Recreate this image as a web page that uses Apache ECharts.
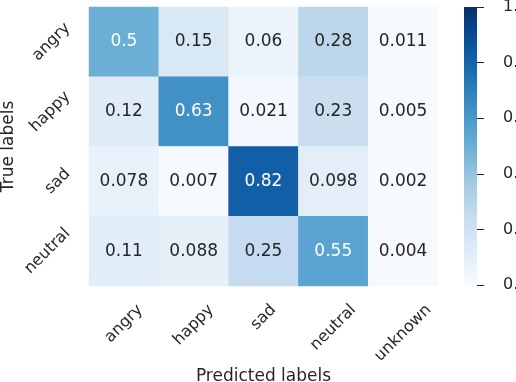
<!DOCTYPE html>
<html>
<head>
<meta charset="utf-8">
<script src="https://cdn.jsdelivr.net/npm/echarts@6/dist/echarts.min.js"></script>
<style>
  html, body { margin: 0; padding: 0; background: #fff; }
  #box1 { width: 516px; height: 382px; }
</style>
</head>
<body>
<div id="box1"></div>
<script>
// data
var predLabels = ['angry', 'happy', 'sad', 'neutral', 'unknown'];
var trueLabels = ['angry', 'happy', 'sad', 'neutral'];
var rowAngry   = [0.5, 0.15, 0.06, 0.28, 0.011];
var rowHappy   = [0.12, 0.63, 0.021, 0.23, 0.005];
var rowSad     = [0.078, 0.007, 0.82, 0.098, 0.002];
var rowNeutral = [0.11, 0.088, 0.25, 0.55, 0.004];
var rows = [rowAngry, rowHappy, rowSad, rowNeutral];

var FONT = 'DejaVu Sans';
var TXT = '#262626';
var TICK_FS = 16;
// matplotlib "Blues"
var blues = ['#f7fbff', '#deebf7', '#c6dbef', '#9ecae1', '#6baed6', '#4292c6', '#2171b5', '#08519c', '#08306b'];

var heat = [];
rows.forEach(function (r, y) {
  r.forEach(function (v, x) {
    heat.push({ value: [x, y, v], label: { color: v > 0.45 ? '#fff' : TXT } });
  });
});

// rotated tick labels (45deg): pad each box so longer labels sit the way
// matplotlib puts them (x: box top fixed, y: box right edge fixed)
var ctx = document.createElement('canvas').getContext('2d');
ctx.font = TICK_FS + 'px "' + FONT + '"';
function rotLabels(names, isX) {
  var w = names.map(function (n) { return ctx.measureText(n).width; });
  var wmin = Math.min.apply(null, w);
  var h = TICK_FS;
  return names.map(function (n, i) {
    var d = w[i] - wmin;
    return {
      value: n,
      textStyle: isX
        ? { align: 'center', verticalAlign: 'top', padding: [d * 0.25, d * 0.5 + h, 0, 0] }
        : { align: 'center', verticalAlign: 'bottom', padding: [0, d * 0.5 + h, d * 0.25, 0] }
    };
  });
}

// colorbar gradient, dark at the top
var cbarStops = blues.map(function (c, i) {
  return { offset: 1 - i / (blues.length - 1), color: c };
}).reverse();

var myChart1 = echarts.init(document.getElementById('box1'));
var option = {
  backgroundColor: '#fff',
  textStyle: { fontFamily: FONT },
  grid: [
    { left: 89, top: 7, width: 349, height: 279, outerBoundsMode: 'none', containLabel: false },
    // colorbar tick strip, just right of the bar
    { left: 477, top: 7, width: 30, height: 278, outerBoundsMode: 'none', containLabel: false }
  ],
  graphic: [{
    type: 'rect',
    left: 464, top: 7, z: 1,
    shape: { width: 13, height: 278 },
    style: { fill: new echarts.graphic.LinearGradient(0, 0, 0, 1, cbarStops) }
  }],
  xAxis: [{
    type: 'category',
    data: rotLabels(predLabels, true),
    gridIndex: 0,
    axisLine: { show: false },
    axisTick: { show: false },
    splitLine: { show: false },
    axisLabel: {
      interval: 0, rotate: 45,
      margin: 20, fontSize: TICK_FS, color: TXT, fontFamily: FONT
    },
    name: 'Predicted labels',
    nameLocation: 'middle',
    nameGap: 82,
    nameMoveOverlap: false,
    nameTextStyle: { fontSize: 17, color: TXT, fontFamily: FONT }
  }, {
    type: 'category', data: ['c'], gridIndex: 1, show: false
  }],
  yAxis: [{
    type: 'category',
    data: rotLabels(trueLabels, false),
    inverse: true,
    gridIndex: 0,
    axisLine: { show: false },
    axisTick: { show: false },
    splitLine: { show: false },
    axisLabel: {
      interval: 0, rotate: 45,
      margin: 20, fontSize: TICK_FS, color: TXT, fontFamily: FONT
    },
    name: 'True labels',
    nameLocation: 'middle',
    nameGap: 72,
    nameMoveOverlap: false,
    nameTextStyle: { fontSize: 17, color: TXT, fontFamily: FONT }
  }, {
    type: 'value',
    gridIndex: 1,
    position: 'left',
    z: 10,
    min: 0, max: 1, interval: 0.2,
    axisLine: { show: true, onZero: false, lineStyle: { color: 'rgba(0,0,0,0)' } },
    axisTick: { show: true, inside: true, length: 7, lineStyle: { color: TXT, width: 1 } },
    splitLine: { show: false },
    axisLabel: {
      inside: true,
      margin: 26, fontSize: TICK_FS, color: TXT, fontFamily: FONT,
      formatter: function (v) { return v.toFixed(1); }
    }
  }],
  visualMap: {
    type: 'continuous',
    show: false,
    min: 0, max: 1,
    seriesIndex: 0,
    inRange: { color: blues }
  },
  series: [{
    type: 'heatmap',
    xAxisIndex: 0, yAxisIndex: 0,
    data: heat,
    itemStyle: { borderWidth: 0 },
    label: {
      show: true, fontSize: 17, fontFamily: FONT,
      formatter: function (p) { return String(p.value[2]); }
    },
    emphasis: { disabled: true }
  }, {
    type: 'line',
    xAxisIndex: 1, yAxisIndex: 1,
    data: [],
    silent: true
  }]
};
myChart1.setOption(option);
</script>
</body>
</html>
